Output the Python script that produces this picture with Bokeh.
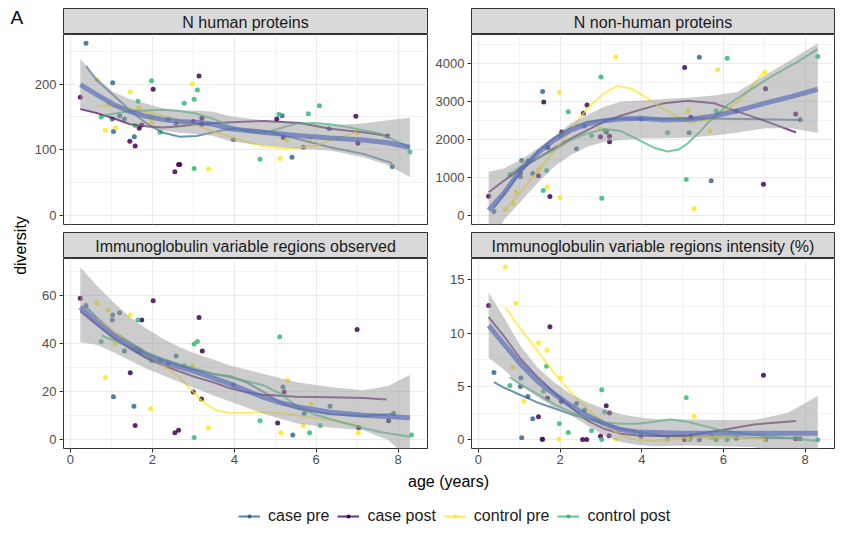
from bokeh.plotting import figure
from bokeh.layouts import column, row
from bokeh.models import Range1d, FixedTicker, Label, Legend, LegendItem
from bokeh.embed import file_html
from bokeh.resources import INLINE

FONT = "Liberation Sans"

GROUPS = ["case pre", "case post", "control pre", "control post"]
GROUP_COLORS = ["#31688E", "#440154", "#FDE725", "#35B779"]
PANEL_TITLES = ["N human proteins", "N non-human proteins",
                "Immunoglobulin variable regions observed",
                "Immunoglobulin variable regions intensity (%)"]
X_TICKS = [0, 2, 4, 6, 8]
X_MINOR = [1, 3, 5, 7]

# ---------------- Panel 1: N human proteins ----------------
hum_y_ticks = [0, 100, 200]
hum_y_minor = [50, 150, 250]
hum_case_pre_age = [0.38, 1.03, 1.02, 1.05, 1.2, 1.32, 1.56, 2.39, 2.58, 3.98, 5.17, 5.41, 5.69, 6.32, 7.86]
hum_case_pre_val = [262, 202, 147, 128, 152, 147, 120, 147, 140, 116, 152, 89, 104, 132, 75]
hum_case_post_age = [0.24, 1.45, 1.58, 1.68, 1.74, 2.02, 2.55, 2.64, 2.67, 3.0, 3.14, 3.21, 3.2, 5.04, 5.2, 6.97, 7.02, 7.74]
hum_case_post_val = [180, 113, 106, 133, 138, 192, 67, 78, 78, 143, 212, 148, 139, 147, 119, 151, 110, 121]
hum_ctrl_pre_age = [0.65, 0.85, 0.92, 1.1, 1.46, 1.67, 1.96, 1.99, 2.98, 3.37, 5.12, 5.28, 5.85, 7.0]
hum_ctrl_pre_val = [206, 130, 171, 134, 188, 164, 150, 142, 200, 71, 87, 115, 117, 126]
hum_ctrl_post_age = [0.75, 1.58, 1.65, 1.98, 2.19, 2.78, 3.02, 3.1, 3.02, 4.63, 5.09, 5.81, 6.08, 8.29]
hum_ctrl_post_val = [150, 137, 174, 205, 127, 171, 177, 191, 72, 86, 154, 155, 167, 97]

hum_fit_age = [0.24, 0.64, 1.05, 1.46, 1.86, 2.27, 2.67, 3.08, 3.49, 3.9, 4.7, 5.53, 6.34, 7.15, 7.75, 8.29]
hum_fit_val = [199, 184, 169, 158, 151, 146, 143, 142, 139, 132, 127, 122, 118, 115, 111, 104]
hum_fit_hi = [238, 210, 188, 177, 170, 163, 160, 160, 158, 151, 145, 141, 138, 140, 145, 149]
hum_fit_lo = [162, 158, 150, 139, 134, 129, 126, 124, 121, 113, 107, 102, 99, 89, 77, 59]

hum_case_pre_sm_age = [0.38, 0.64, 1.05, 1.46, 1.86, 2.27, 2.67, 3.08, 3.49, 3.9, 4.7, 5.53, 6.34, 7.15, 7.86]
hum_case_pre_sm_val = [227, 206, 183, 160, 140, 126, 120, 121, 127, 132, 129, 117, 104, 94, 80]
hum_case_post_sm_age = [0.24, 0.64, 1.05, 1.46, 1.86, 2.27, 2.67, 3.08, 3.9, 4.7, 5.6, 6.34, 7.24, 7.74]
hum_case_post_sm_val = [162, 156, 148, 139, 136, 134, 136, 139, 142, 144, 141, 132, 126, 121]
hum_ctrl_pre_sm_age = [0.65, 1.05, 1.46, 1.86, 2.27, 2.67, 3.08, 3.49, 3.9, 4.3, 4.7, 5.12, 5.53, 5.94, 6.34, 6.7, 7.0]
hum_ctrl_pre_sm_val = [167, 166, 162, 158, 152, 145, 137, 128, 120, 112, 106, 103, 103, 106, 114, 121, 127]
hum_ctrl_post_sm_age = [0.75, 1.05, 1.46, 1.86, 2.27, 2.67, 3.08, 3.49, 3.9, 4.3, 4.7, 5.12, 5.53, 5.94, 6.34, 6.75, 7.15, 7.56, 8.29]
hum_ctrl_post_sm_val = [151, 155, 159, 160, 161, 159, 155, 147, 136, 128, 125, 133, 140, 141, 139, 135, 130, 125, 104]

# ---------------- Panel 2: N non-human proteins ----------------
non_y_ticks = [0, 1000, 2000, 3000, 4000]
non_y_minor = [500, 1500, 2500, 3500, 4500]
non_case_pre_age = [0.38, 1.03, 1.03, 1.06, 1.21, 1.33, 1.57, 2.4, 2.6, 3.98, 5.16, 5.41, 5.7, 6.32, 7.88]
non_case_pre_val = [114, 1132, 1026, 1456, 1439, 1114, 3263, 1763, 2360, 2547, 2180, 4166, 919, 2757, 2521]
non_case_post_age = [0.25, 1.47, 1.6, 1.7, 1.75, 2.04, 2.57, 2.66, 2.99, 3.13, 3.21, 3.21, 5.05, 5.2, 6.98, 7.03, 7.77]
non_case_post_val = [518, 1053, 2991, 1798, 509, 2202, 2693, 2912, 2079, 2202, 2088, 1947, 3895, 2591, 831, 3335, 2678]
non_ctrl_pre_age = [0.66, 0.85, 0.92, 1.13, 1.47, 1.69, 1.98, 2.0, 2.98, 3.36, 5.13, 5.28, 5.67, 5.86, 7.01]
non_ctrl_pre_val = [166, 316, 623, 1368, 1219, 755, 3237, 474, 2289, 4175, 2757, 184, 2232, 3834, 3764]
non_ctrl_post_age = [0.77, 1.59, 1.67, 2.0, 2.2, 2.77, 3.0, 3.02, 3.1, 4.63, 5.09, 5.82, 6.09, 8.31]
non_ctrl_post_val = [1088, 667, 1193, 2105, 2737, 2105, 3650, 465, 2230, 2180, 954, 2757, 4140, 4184]

non_fit_age = [0.25, 0.62, 1.03, 1.44, 1.85, 2.26, 2.67, 3.08, 3.48, 3.98, 4.55, 5.2, 5.77, 6.35, 7.0, 7.66, 8.31]
non_fit_val = [150, 587, 1202, 1640, 1991, 2254, 2412, 2500, 2544, 2561, 2515, 2535, 2623, 2763, 2956, 3132, 3325]
non_fit_hi = [1158, 1245, 1465, 1772, 2079, 2430, 2650, 2868, 3000, 3030, 3070, 3110, 3160, 3260, 3680, 4100, 4535]
non_fit_lo = [-900, -114, 368, 850, 1289, 1596, 1816, 1947, 1991, 2030, 2035, 2060, 2110, 2190, 2298, 2298, 2184]

non_case_pre_sm_age = [0.38, 0.62, 1.03, 1.44, 1.85, 2.26, 2.67, 3.08, 3.48, 4.5, 5.5, 6.5, 7.88]
non_case_pre_sm_val = [200, 560, 1150, 1680, 2050, 2320, 2470, 2530, 2550, 2550, 2555, 2545, 2520]
non_case_post_sm_age = [0.25, 0.62, 1.03, 1.44, 1.85, 2.26, 2.67, 3.08, 3.48, 3.98, 4.55, 5.12, 5.77, 6.35, 7.0, 7.78]
non_case_post_sm_val = [620, 920, 1240, 1500, 1780, 2030, 2254, 2474, 2630, 2790, 2960, 3020, 2956, 2737, 2500, 2190]
non_ctrl_pre_sm_age = [0.66, 1.03, 1.44, 1.85, 2.26, 2.67, 3.08, 3.4, 3.73, 4.14, 4.55, 4.96, 5.2, 5.61, 6.01, 6.42, 7.0]
non_ctrl_pre_sm_val = [166, 632, 1158, 1684, 2254, 2825, 3219, 3412, 3351, 3088, 2798, 2561, 2447, 2518, 2737, 3044, 3789]
non_ctrl_post_sm_age = [0.77, 1.03, 1.44, 1.85, 2.26, 2.67, 3.08, 3.48, 3.73, 3.98, 4.3, 4.63, 4.9, 5.12, 5.4, 5.61, 6.1, 6.59, 7.17, 7.82, 8.31]
non_ctrl_post_sm_val = [1096, 1300, 1509, 1728, 1991, 2167, 2281, 2230, 2100, 1960, 1790, 1690, 1740, 1900, 2180, 2430, 2912, 3263, 3658, 4053, 4377]

# ---------------- Panel 3: Ig variable regions observed ----------------
obs_y_ticks = [0, 20, 40, 60]
obs_y_minor = [10, 30, 50, 70]
obs_case_pre_age = [0.38, 1.03, 1.02, 1.05, 1.2, 1.32, 1.55, 2.39, 2.58, 3.98, 5.19, 5.43, 5.71, 6.34, 7.89]
obs_case_pre_val = [56, 52, 50, 18, 53, 37, 14, 32, 35, 23, 22, 2, 11, 14, 11]
obs_case_post_age = [0.24, 1.46, 1.58, 1.68, 1.74, 2.02, 2.55, 2.64, 3.0, 3.14, 3.2, 3.22, 5.06, 5.22, 7.0, 7.04, 7.77]
obs_case_post_val = [59, 28, 6, 37, 50, 58, 3, 4, 20, 51, 17, 37, 7, 20, 46, 5, 8]
obs_ctrl_pre_age = [0.65, 0.85, 0.92, 1.09, 1.46, 1.96, 1.98, 2.98, 3.37, 5.14, 5.3, 5.68, 5.88, 7.03]
obs_ctrl_pre_val = [57, 26, 54, 40, 52, 13, 34, 31, 5, 3, 25, 6, 15, 3]
obs_ctrl_post_age = [0.75, 1.58, 1.65, 1.98, 2.19, 2.78, 3.02, 3.1, 3.02, 4.63, 5.11, 5.84, 6.1, 8.33]
obs_ctrl_post_val = [41, 38, 50, 33, 33, 31, 40, 41, 1, 8, 43, 3, 6, 2]

obs_fit_age = [0.24, 0.64, 1.05, 1.46, 1.86, 2.27, 2.67, 3.08, 3.49, 3.9, 4.3, 4.7, 5.12, 5.53, 6.34, 7.15, 7.75, 8.29]
obs_fit_val = [55.3, 49, 43.5, 39, 35, 32.4, 30.3, 28.2, 25.8, 23.3, 20.5, 17.8, 15.5, 13.8, 11.5, 10.3, 9.7, 9.2]
obs_band_age = [0.24, 0.64, 1.05, 1.46, 1.86, 2.27, 2.67, 3.08, 3.49, 3.9, 4.7, 5.53, 6.34, 7.15, 7.75, 8.29]
obs_fit_hi = [72, 64.3, 57.4, 51, 46.3, 42, 38.6, 35.8, 33.5, 31, 27.6, 24, 22, 20.7, 22.5, 27]
obs_fit_lo = [40.7, 39.6, 36.5, 33, 29.6, 26.8, 24, 21.3, 18.5, 16, 11, 6.8, 5.2, 4, 0, -8]

obs_case_pre_sm_age = [0.38, 0.64, 1.05, 1.46, 1.86, 2.27, 2.67, 3.08, 3.49, 3.9, 4.3, 4.71, 5.12, 5.53, 6.34, 7.15, 7.86]
obs_case_pre_sm_val = [55.5, 51, 45, 40.5, 36.5, 33.5, 31, 29, 27.5, 26.5, 24, 20, 15.5, 13, 10.7, 9.9, 10.8]
obs_case_post_sm_age = [0.24, 0.64, 1.05, 1.46, 1.86, 2.27, 2.67, 3.08, 3.49, 3.9, 4.3, 4.71, 5.53, 6.34, 7.15, 7.72]
obs_case_post_sm_val = [53.6, 48, 42.5, 38, 34, 31, 28.5, 26, 24, 21.5, 19.8, 18.8, 18, 17.8, 17.4, 16.8]
obs_ctrl_pre_sm_age = [0.66, 1.05, 1.46, 1.86, 2.27, 2.67, 3.0, 3.24, 3.57, 3.9, 4.3, 4.71, 5.12, 5.53, 6.34, 7.0]
obs_ctrl_pre_sm_val = [50, 45, 39.6, 35, 31, 26, 20, 15.7, 12.2, 11.3, 11.2, 11.5, 11.2, 10.3, 8.2, 6]
obs_ctrl_post_sm_age = [0.76, 1.05, 1.46, 1.86, 2.27, 2.67, 3.08, 3.49, 3.9, 4.3, 4.71, 5.12, 5.53, 5.94, 6.34, 6.75, 7.15, 7.56, 8.29]
obs_ctrl_post_sm_val = [43.5, 41.5, 38.6, 36, 33.7, 31.5, 29.6, 27.5, 26, 24.5, 22.8, 19.3, 14, 10.7, 8.7, 6.8, 5, 3.3, 1.3]

# ---------------- Panel 4: Ig variable regions intensity (%) ----------------
int_y_ticks = [0, 5, 10, 15]
int_y_minor = [2.5, 7.5, 12.5]
int_case_pre_age = [0.38, 1.04, 1.03, 1.06, 1.21, 1.33, 1.56, 2.4, 2.6, 3.98, 5.17, 5.41, 5.7, 6.32, 7.88]
int_case_pre_val = [6.3, 5.8, 5.0, 0.19, 4.05, 1.96, 0.05, 3.4, 2.8, 0.34, 0.05, 0.0, 0.25, 0.15, 0.1]
int_case_post_age = [0.25, 1.47, 1.57, 1.69, 1.75, 2.03, 2.55, 2.65, 2.99, 3.13, 3.2, 3.21, 5.05, 5.2, 6.98, 7.03, 7.77]
int_case_post_val = [12.6, 2.15, 0.05, 3.9, 10.6, 3.6, 0.03, 0.03, 0.34, 3.2, 0.37, 2.5, 0.03, 0.3, 6.06, 0.02, 0.1]
int_ctrl_pre_age = [0.66, 0.85, 0.92, 1.11, 1.47, 1.68, 1.97, 2.01, 2.97, 3.37, 5.13, 5.28, 5.67, 5.86, 7.01]
int_ctrl_pre_val = [16.2, 6.8, 12.8, 3.6, 9.1, 8.4, 0.05, 5.8, 1.8, 0.05, 0.05, 2.2, 0.2, 0.1, 0.05]
int_ctrl_post_age = [0.77, 1.59, 1.67, 1.98, 2.2, 2.77, 3.02, 3.02, 3.09, 4.63, 5.09, 5.82, 6.09, 8.31]
int_ctrl_post_val = [5.1, 4.55, 6.9, 1.5, 0.68, 0.84, 4.7, 0.02, 2.6, 0.06, 3.94, 0.0, 0.0, 0.0]

int_fit_age = [0.25, 0.62, 1.03, 1.44, 1.85, 2.26, 2.67, 3.08, 3.48, 3.9, 5.0, 6.0, 7.0, 8.31]
int_fit_val = [10.7, 9.0, 7.1, 5.5, 4.3, 3.2, 2.27, 1.5, 0.96, 0.72, 0.62, 0.6, 0.6, 0.6]
int_band_age = [0.25, 0.62, 1.03, 1.44, 1.85, 2.26, 2.67, 3.08, 3.48, 3.9, 4.3, 5.12, 5.94, 6.75, 7.57, 8.31]
int_fit_hi = [13.8, 11.5, 8.8, 6.8, 5.4, 4.3, 3.5, 2.9, 2.4, 2.1, 1.95, 1.9, 1.85, 1.85, 2.5, 4.1]
int_fit_lo = [7.7, 6.6, 5.1, 4.0, 3.05, 2.3, 1.34, 0.4, -0.2, -0.5, -0.6, -0.55, -0.6, -0.7, -1.3, -2.9]

int_case_pre_sm_age = [0.38, 0.62, 1.03, 1.44, 1.85, 2.26, 2.67, 3.08, 3.48, 3.9, 4.5, 5.5, 6.5, 7.88]
int_case_pre_sm_val = [5.4, 4.9, 4.2, 3.5, 2.96, 2.4, 1.96, 1.5, 1.03, 0.72, 0.35, 0.25, 0.2, 0.15]
int_case_post_sm_age = [0.25, 0.62, 1.03, 1.44, 1.85, 2.26, 2.67, 3.08, 3.48, 3.9, 4.3, 4.71, 5.12, 5.94, 6.75, 7.78]
int_case_post_sm_val = [11.5, 9.75, 7.6, 5.9, 4.45, 3.05, 1.8, 1.03, 0.56, 0.4, 0.35, 0.35, 0.4, 0.9, 1.43, 1.75]
int_ctrl_pre_sm_age = [0.66, 1.03, 1.44, 1.85, 2.26, 2.67, 3.08, 3.48, 3.9, 4.3, 4.71, 5.12, 5.94, 7.0]
int_ctrl_pre_sm_val = [12.4, 10.4, 8.35, 6.3, 4.46, 2.9, 1.5, 0.4, -0.06, -0.12, 0.03, 0.2, 0.25, 0.06]
int_ctrl_post_sm_age = [0.77, 1.03, 1.44, 1.85, 2.26, 2.67, 3.08, 3.48, 3.9, 4.3, 4.71, 5.12, 5.94, 6.75, 7.57, 8.31]
int_ctrl_post_sm_val = [5.86, 5.2, 4.3, 3.36, 2.6, 2.0, 1.65, 1.5, 1.5, 1.68, 1.9, 1.68, 0.9, 0.44, 0.19, -0.12]


X_RANGE = (-0.17, 8.72)


def style_axes(p, yticks, yminor, show_x):
    xt = FixedTicker(ticks=X_TICKS, minor_ticks=X_MINOR)
    yt = FixedTicker(ticks=yticks, minor_ticks=yminor)
    p.xaxis.ticker = xt
    p.xgrid.ticker = xt
    p.yaxis.ticker = yt
    p.ygrid.ticker = yt
    for g in (p.xgrid, p.ygrid):
        g.grid_line_color = "#EBEBEB"
        g.grid_line_width = 1.2
        g.minor_grid_line_color = "#EBEBEB"
        g.minor_grid_line_width = 0.6
    for ax in (p.xaxis, p.yaxis):
        ax.axis_line_color = None
        ax.major_tick_line_color = "#333333"
        ax.major_tick_in = 0
        ax.major_tick_out = 4
        ax.minor_tick_line_color = None
        ax.major_label_text_color = "#4D4D4D"
        ax.major_label_text_font = FONT
        ax.major_label_text_font_size = "13px"
    p.yaxis.major_label_standoff = 3
    p.xaxis.major_label_standoff = 2
    if not show_x:
        p.xaxis.visible = False


def make_panel(y_range, yticks, yminor, points, smooths, fit, band,
               width, left, right, height, bottom, show_x):
    p = figure(width=width, height=height, x_range=Range1d(*X_RANGE),
               y_range=Range1d(*y_range), output_backend="svg",
               toolbar_location=None, min_border_left=left,
               min_border_right=right, min_border_top=0,
               min_border_bottom=bottom)
    p.outline_line_color = "#333333"
    p.outline_line_width = 1
    p.background_fill_color = "white"
    p.border_fill_color = "white"
    style_axes(p, yticks, yminor, show_x)
    for (ax, ay), col in zip(points, GROUP_COLORS):
        p.scatter(ax, ay, size=5, color=col, alpha=0.85, line_color=None)
    for (sx, sy), col in zip(smooths, GROUP_COLORS):
        p.line(sx, sy, line_color=col, line_width=2, line_alpha=0.7)
    bx, blo, bhi = band
    p.varea(x=bx, y1=blo, y2=bhi, fill_color="#999999", fill_alpha=0.5)
    fx, fy = fit
    p.line(fx, fy, line_color="#5468B8", line_width=5, line_alpha=0.65)
    return p


def make_header(text, width, left, right, height, top):
    h = figure(width=width, height=height, x_range=Range1d(0, 1),
               y_range=Range1d(0, 1), output_backend="svg",
               toolbar_location=None, x_axis_location=None,
               y_axis_location=None, min_border_left=left,
               min_border_right=right, min_border_top=top,
               min_border_bottom=0)
    h.grid.visible = False
    h.background_fill_color = "#D9D9D9"
    h.border_fill_color = "white"
    h.outline_line_color = "#333333"
    h.outline_line_width = 1
    h.add_layout(Label(x=0.5, y=0.45, text=text, text_align="center",
                       text_baseline="middle", text_font_size="16px",
                       text_font=FONT, text_color="#1A1A1A"))
    return h


L1, R1, W1 = 33, 4, 401
L2, R2, W2 = 40, 10, 413
PH_TOP = 198
PH_BOT = 211
HDR_TOP = 34
LEFT_W = 30

p_hum = make_panel((-13.1, 275.1), hum_y_ticks, hum_y_minor,
                   [(hum_case_pre_age, hum_case_pre_val), (hum_case_post_age, hum_case_post_val),
                    (hum_ctrl_pre_age, hum_ctrl_pre_val), (hum_ctrl_post_age, hum_ctrl_post_val)],
                   [(hum_case_pre_sm_age, hum_case_pre_sm_val), (hum_case_post_sm_age, hum_case_post_sm_val),
                    (hum_ctrl_pre_sm_age, hum_ctrl_pre_sm_val), (hum_ctrl_post_sm_age, hum_ctrl_post_sm_val)],
                   (hum_fit_age, hum_fit_val), (hum_fit_age, hum_fit_lo, hum_fit_hi),
                   W1, L1, R1, PH_TOP, 8, False)
p_non = make_panel((-227, 4763), non_y_ticks, non_y_minor,
                   [(non_case_pre_age, non_case_pre_val), (non_case_post_age, non_case_post_val),
                    (non_ctrl_pre_age, non_ctrl_pre_val), (non_ctrl_post_age, non_ctrl_post_val)],
                   [(non_case_pre_sm_age, non_case_pre_sm_val), (non_case_post_sm_age, non_case_post_sm_val),
                    (non_ctrl_pre_sm_age, non_ctrl_pre_sm_val), (non_ctrl_post_sm_age, non_ctrl_post_sm_val)],
                   (non_fit_age, non_fit_val), (non_fit_age, non_fit_lo, non_fit_hi),
                   W2, L2, R2, PH_TOP, 8, False)
p_obs = make_panel((-3.6, 75.6), obs_y_ticks, obs_y_minor,
                   [(obs_case_pre_age, obs_case_pre_val), (obs_case_post_age, obs_case_post_val),
                    (obs_ctrl_pre_age, obs_ctrl_pre_val), (obs_ctrl_post_age, obs_ctrl_post_val)],
                   [(obs_case_pre_sm_age, obs_case_pre_sm_val), (obs_case_post_sm_age, obs_case_post_sm_val),
                    (obs_ctrl_pre_sm_age, obs_ctrl_pre_sm_val), (obs_ctrl_post_sm_age, obs_ctrl_post_sm_val)],
                   (obs_fit_age, obs_fit_val), (obs_band_age, obs_fit_lo, obs_fit_hi),
                   W1, L1, R1, PH_BOT, PH_BOT - 190, True)
p_int = make_panel((-0.82, 17.0), int_y_ticks, int_y_minor,
                   [(int_case_pre_age, int_case_pre_val), (int_case_post_age, int_case_post_val),
                    (int_ctrl_pre_age, int_ctrl_pre_val), (int_ctrl_post_age, int_ctrl_post_val)],
                   [(int_case_pre_sm_age, int_case_pre_sm_val), (int_case_post_sm_age, int_case_post_sm_val),
                    (int_ctrl_pre_sm_age, int_ctrl_pre_sm_val), (int_ctrl_post_sm_age, int_ctrl_post_sm_val)],
                   (int_fit_age, int_fit_val), (int_band_age, int_fit_lo, int_fit_hi),
                   W2, L2, R2, PH_BOT, PH_BOT - 190, True)

h1 = make_header(PANEL_TITLES[0], W1, L1, R1, HDR_TOP, HDR_TOP - 26)
h2 = make_header(PANEL_TITLES[1], W2, L2, R2, HDR_TOP, HDR_TOP - 26)
h3 = make_header(PANEL_TITLES[2], W1, L1, R1, 26, 0)
h4 = make_header(PANEL_TITLES[3], W2, L2, R2, 26, 0)

# left strip: panel tag and y axis title
LEFT_H = HDR_TOP + PH_TOP + 26 + PH_BOT
left = figure(width=LEFT_W, height=LEFT_H, x_range=Range1d(0, LEFT_W),
              y_range=Range1d(0, LEFT_H), output_backend="svg",
              toolbar_location=None, x_axis_location=None,
              y_axis_location=None, min_border=0)
left.grid.visible = False
left.outline_line_color = None
left.add_layout(Label(x=10, y=LEFT_H - 17, text="A", text_align="left",
                      text_baseline="middle", text_font_size="19px",
                      text_font=FONT, text_color="black"))
left.add_layout(Label(x=20, y=LEFT_H - 245, text="diversity", angle=1.5708,
                      text_align="center", text_baseline="middle",
                      text_font_size="16px", text_font=FONT, text_color="black"))

# bottom strip: x axis title and legend
BW = LEFT_W + W1 + W2
BH = 528 - LEFT_H
bottom = figure(width=BW, height=BH, x_range=Range1d(0, BW),
                y_range=Range1d(0, BH), output_backend="svg",
                toolbar_location=None, x_axis_location=None,
                y_axis_location=None, min_border=0)
bottom.grid.visible = False
bottom.outline_line_color = None
bottom.add_layout(Label(x=448, y=BH - (481 - LEFT_H), text="age (years)", text_align="center",
                        text_baseline="middle", text_font_size="16px",
                        text_font=FONT, text_color="black"))
items = []
for name, col in zip(GROUPS, GROUP_COLORS):
    lr = bottom.line([float("nan")], [float("nan")], line_color=col, line_width=2, line_alpha=0.8)
    sr = bottom.scatter([float("nan")], [float("nan")], size=4, color=col, line_color=None)
    items.append(LegendItem(label=name, renderers=[lr, sr]))
legend = Legend(items=items, orientation="horizontal", location=(238, 3),
                label_text_font_size="16px", label_text_font=FONT,
                label_text_color="#1A1A1A", glyph_width=22, glyph_height=10,
                label_standoff=8, spacing=8, padding=0, margin=0,
                border_line_color=None, background_fill_alpha=0)
bottom.add_layout(legend)

grid_col = column(row(h1, h2), row(p_hum, p_non), row(h3, h4), row(p_obs, p_int))
layout = column(row(left, grid_col), bottom)

open("out.html", "w").write(file_html(layout, INLINE))
